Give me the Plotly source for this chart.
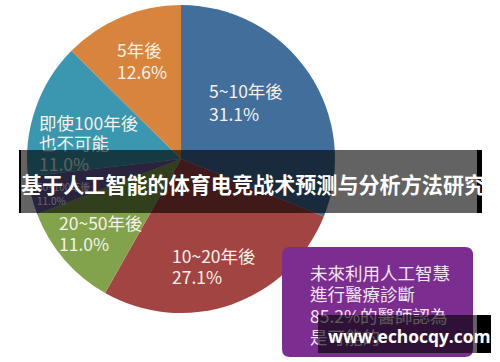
import plotly.graph_objects as go

W, H = 500, 362

# ---- data ----
categories = ["5~10年後", "10~20年後", "20~50年後", "50~100年後", "即使100年後<br>也不可能", "5年後"]
values = [31.1, 27.1, 11.0, 4.0, 14.2, 12.6]          # slice sizes as drawn
shown_pct = ["31.1%", "27.1%", "11.0%", "11.0%", "11.0%", "12.6%"]  # printed labels
colors = ["#426E9C", "#A24542", "#82A24C", "#6A5AA0", "#3A97AF", "#D8843C"]

title_text = "基于人工智能的体育电竞战术预测与分析方法研究"
box_lines = ["未來利用人工智慧", "進行醫療診斷", "85.2%的醫師認為", "是可能的"]
watermark = "www.echocqy.com"


def X(px):
    return px / W


def Y(py):
    return 1 - py / H


fig = go.Figure(go.Pie(
    labels=categories, values=values, sort=False, direction="clockwise", rotation=0,
    marker=dict(colors=colors, line=dict(width=0)),
    textinfo="none", hoverinfo="none",
    domain=dict(x=[X(27), X(335)], y=[Y(313), Y(5)]),
))

label_font = dict(family="Noto Sans CJK TC", size=17.5, color="#F6F1EA")
# label placement: left x, then y of each line (pixels)
label_pos = [(207, [90, 113]), (170, [255, 276]), (57, [222, 243]),
             (35, [186, 200]), (37, [122, 143, 163]), (115, [50, 72])]
annotations = []
for i, (cat, pct) in enumerate(zip(categories, shown_pct)):
    lx, ys = label_pos[i]
    f = dict(label_font)
    if i == 3:
        f = dict(family="Noto Sans CJK TC", size=10, color="#FFFFFF")
    lines = cat.split("<br>") + [pct]
    for line, ly in zip(lines, ys):
        annotations.append(dict(
            text=line, x=X(lx), y=Y(ly), xref="paper", yref="paper",
            xanchor="left", yanchor="middle", align="left", showarrow=False, font=f))

# banner background
annotations.append(dict(
    text=" ", x=X(21), y=Y(150), xref="paper", yref="paper", xanchor="left", yanchor="top",
    width=456, height=63, bgcolor="rgba(0,0,0,0.61)", borderpad=0, borderwidth=0, showarrow=False))
annotations.append(dict(
    text=f"<b>{title_text}</b>", x=X(19), y=Y(184), xref="paper", yref="paper",
    xanchor="left", yanchor="middle", showarrow=False,
    font=dict(family="Noto Sans CJK SC", size=21.1, color="#FFFFFF")))

# purple box text
for line, ly in zip(box_lines, [272, 293, 315, 336]):
    annotations.append(dict(
        text=line, x=X(308), y=Y(ly), xref="paper", yref="paper",
        xanchor="left", yanchor="middle", align="left", showarrow=False,
        font=dict(family="Noto Sans CJK TC", size=17.5, color="#F3E6F3")))

# watermark
annotations.append(dict(
    text=" ", x=X(318), y=Y(315), xref="paper", yref="paper", xanchor="left", yanchor="top",
    width=159, height=38, bgcolor="rgba(0,0,0,0.62)", borderpad=0, borderwidth=0, showarrow=False))
annotations.append(dict(
    text=f"<b>{watermark}</b>", x=X(326), y=Y(336), xref="paper", yref="paper",
    xanchor="left", yanchor="middle", showarrow=False,
    font=dict(family="Open Sans", size=17.4, color="#FFFFFF")))

# rounded purple box path
x0, x1, y0, y1, r = X(282), X(473), Y(357), Y(247), 8
rx, ry = r / W, r / H
path = (f"M {x0+rx},{y0} L {x1-rx},{y0} Q {x1},{y0} {x1},{y0+ry} L {x1},{y1-ry} "
        f"Q {x1},{y1} {x1-rx},{y1} L {x0+rx},{y1} Q {x0},{y1} {x0},{y1-ry} "
        f"L {x0},{y0+ry} Q {x0},{y0} {x0+rx},{y0} Z")

shapes = [
    dict(type="path", path=path, xref="paper", yref="paper", fillcolor="#7C2E90",
         line=dict(width=0), layer="above"),
    dict(type="rect", x0=X(19), x1=X(21), y0=Y(213), y1=Y(150), xref="paper", yref="paper",
         fillcolor="#000000", line=dict(width=0), layer="above"),
    dict(type="rect", x0=X(477), x1=X(482), y0=Y(213), y1=Y(150), xref="paper", yref="paper",
         fillcolor="#000000", line=dict(width=0), layer="above"),
    dict(type="rect", x0=X(477), x1=X(491), y0=Y(353), y1=Y(315), xref="paper", yref="paper",
         fillcolor="#000000", line=dict(width=0), layer="above"),
]

fig.update_layout(
    width=W, height=H, margin=dict(l=0, r=0, t=0, b=0),
    paper_bgcolor="#FFFFFF", plot_bgcolor="#FFFFFF", showlegend=False,
    annotations=annotations, shapes=shapes,
)

fig.write_html("out.html", config={"displayModeBar": False},
               post_script="document.body.style.margin='0';document.body.style.overflow='hidden';")
